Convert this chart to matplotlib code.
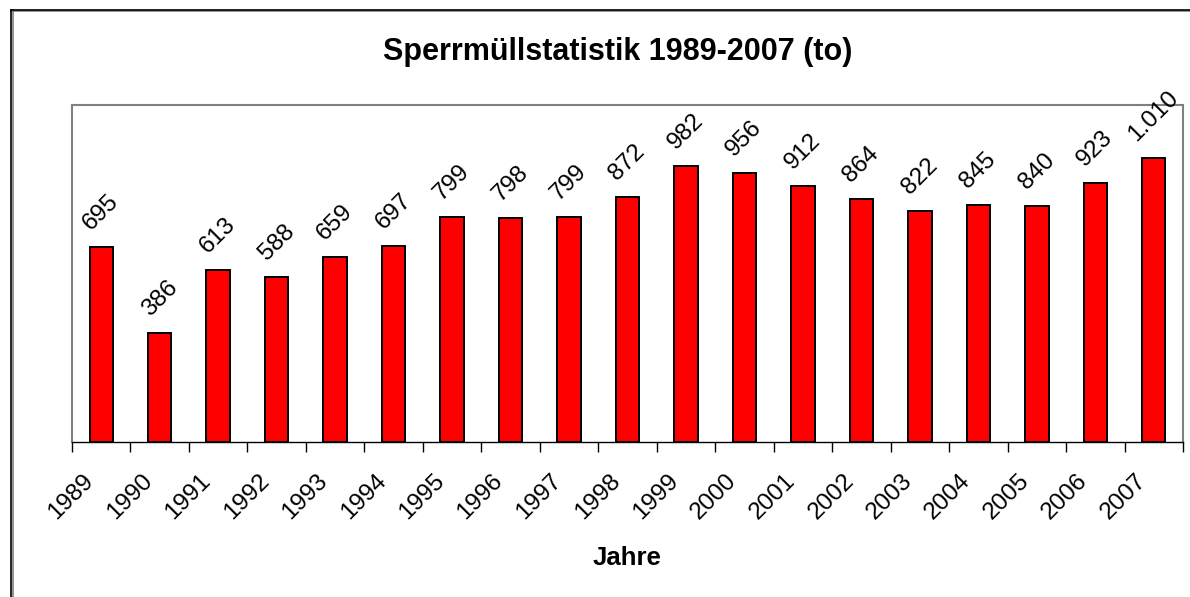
import matplotlib
matplotlib.use('Agg')
import matplotlib.pyplot as plt
import matplotlib.transforms as mtransforms
from matplotlib.lines import Line2D
import numpy as np

plt.rcParams['font.family'] = ['Liberation Sans', 'DejaVu Sans']

years = ['1989', '1990', '1991', '1992', '1993', '1994', '1995', '1996', '1997', '1998',
         '1999', '2000', '2001', '2002', '2003', '2004', '2005', '2006', '2007']
tonnes = [695, 386, 613, 588, 659, 697, 799, 798, 799, 872,
          982, 956, 912, 864, 822, 845, 840, 923, 1010]

W, H = 1190, 597
fig = plt.figure(figsize=(W / 100, H / 100), dpi=100)
ax = fig.add_axes([72 / W, 1 - 441.5 / H, 1111 / W, 336.5 / H])

x = np.arange(len(years))
ax.bar(x, tonnes, width=0.4, color='#ff0000', edgecolor='black', linewidth=1.4, zorder=3)

# data labels, thousands separator as in German
for xi, v in zip(x, tonnes):
    lab = f'{v:,}'.replace(',', '.')
    ax.annotate(lab, (xi, v), xytext=(0, 9), textcoords='offset points',
                ha='center', va='bottom', rotation=45, fontsize=17.5)

ax.set_xlim(-0.5, len(years) - 0.5)
ax.set_ylim(0, 1200)
ax.set_yticks([])

# ticks between categories, labels at centres
ax.set_xticks(np.arange(len(years) + 1) - 0.5)
ax.set_xticklabels([])
ax.set_xticks(x, minor=True)
ax.set_xticklabels(years, minor=True, rotation=45, ha='right', va='center',
                   rotation_mode='anchor', fontsize=17.5)
ax.tick_params(axis='x', which='major', length=7, width=1, color='black', direction='out')
ax.tick_params(axis='x', which='minor', length=0, pad=26)
shift = mtransforms.ScaledTranslation(-11 / 100, 0, fig.dpi_scale_trans)
for t in ax.get_xticklabels(minor=True):
    t.set_transform(t.get_transform() + shift)

for s in ['left', 'top', 'right']:
    ax.spines[s].set_color('#808080')
    ax.spines[s].set_linewidth(1.5)
ax.spines['bottom'].set_color('black')
ax.spines['bottom'].set_linewidth(1)

fig.text(618 / W, 1 - 52 / H, 'Sperrmüllstatistik 1989-2007 (to)', ha='center', va='center',
         fontsize=22, fontweight='bold')
fig.text(627 / W, 1 - 558 / H, 'Jahre', ha='center', va='center', fontsize=18.5,
         fontweight='bold')

# outer chart frame (runs off the image at right and bottom)
fig.add_artist(Line2D([11 / W, 1.05], [1 - 10.5 / H, 1 - 10.5 / H], color='#808080', lw=1.2,
                      transform=fig.transFigure))
fig.add_artist(Line2D([12.5 / W, 12.5 / W], [1 - 10 / H, -0.05], color='#808080', lw=1.2,
                      transform=fig.transFigure))
fig.add_artist(Line2D([10.5 / W, 1.05], [1 - 9.5 / H, 1 - 9.5 / H], color='black', lw=1.2,
                      transform=fig.transFigure))
fig.add_artist(Line2D([11 / W, 11 / W], [1 - 9.5 / H, -0.05], color='black', lw=1.2,
                      transform=fig.transFigure))

fig.savefig('out.png', dpi=100)
